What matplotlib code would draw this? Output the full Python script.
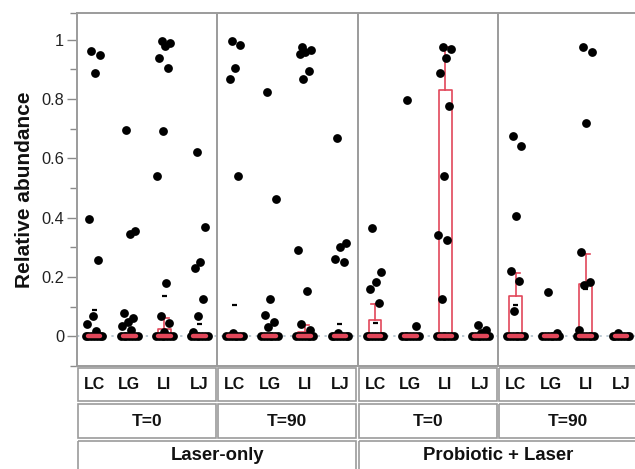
import numpy as np
import matplotlib
matplotlib.use("Agg")
import matplotlib.pyplot as plt
from matplotlib.patches import Rectangle
from matplotlib.ticker import FixedLocator

plt.rcParams['font.family'] = ['Liberation Sans', 'DejaVu Sans']

# ---------------- data ----------------
groups = ["LC", "LG", "LI", "LJ"]
times = ["T=0", "T=90", "T=0", "T=90"]
treatments = ["Laser-only", "Probiotic + Laser"]

# non-zero relative abundances per group (LC, LG, LI, LJ) for each panel
laser_t0 = [
    [0.963, 0.947, 0.887, 0.395, 0.257, 0.069, 0.041, 0.017],
    [0.696, 0.355, 0.344, 0.077, 0.062, 0.048, 0.035, 0.020],
    [0.997, 0.989, 0.980, 0.937, 0.904, 0.693, 0.542, 0.180, 0.068, 0.046, 0.015],
    [0.620, 0.369, 0.251, 0.229, 0.125, 0.069, 0.016],
]
laser_t90 = [
    [0.997, 0.981, 0.906, 0.868, 0.542, 0.010],
    [0.822, 0.463, 0.125, 0.071, 0.048, 0.031],
    [0.974, 0.966, 0.958, 0.951, 0.893, 0.868, 0.291, 0.152, 0.043, 0.020],
    [0.670, 0.313, 0.302, 0.262, 0.251, 0.012],
]
probiotic_t0 = [
    [0.364, 0.217, 0.184, 0.158, 0.114],
    [0.797, 0.035],
    [0.977, 0.968, 0.938, 0.889, 0.777, 0.542, 0.341, 0.324, 0.125],
    [0.037, 0.022, 0.012],
]
probiotic_t90 = [
    [0.676, 0.642, 0.405, 0.221, 0.187, 0.085],
    [0.150, 0.012],
    [0.977, 0.958, 0.718, 0.283, 0.184, 0.172, 0.020],
    [0.012],
]
zero_counts = [7] * 16

# box-plot statistics per group (panels in order, groups LC LG LI LJ)
box_q3 = [0, 0, 0.026, 0,   0, 0, 0.015, 0,   0.054, 0, 0.831, 0,   0.136, 0, 0.178, 0]
whisker_hi = [0, 0, 0.063, 0,   0, 0, 0.037, 0,   0.110, 0, 0.974, 0,   0.215, 0, 0.279, 0]
mean_marks = [0.088, np.nan, 0.135, 0.041,
              0.107, np.nan, np.nan, 0.043,
              0.046, np.nan, np.nan, np.nan,
              0.105, np.nan, 0.158, np.nan]

panels = [laser_t0, laser_t90, probiotic_t0, probiotic_t90]

# ---------------- figure ----------------
FW, FH = 635, 469
fig = plt.figure(figsize=(FW / 100, FH / 100), dpi=100)
left_px, right_px, top_px, bot_px = 76.5, 638.5, 13, 366
ax = fig.add_axes([left_px / FW, (FH - bot_px) / FH,
                   (right_px - left_px) / FW, (bot_px - top_px) / FH])

RED = "#e2475a"
GRAY = "#9b9b9b"
DOT = 40

ax.set_xlim(0, 4)
ax.set_ylim(-0.1, 1.09)
ax.axhline(0, color="#a9bcc8", ls=(0, (1.5, 3)), lw=1.1, zorder=1)
for p in (1, 2, 3):
    ax.axvline(p, color=GRAY, lw=1.4, zorder=1)

offs = np.array([0.125, 0.375, 0.625, 0.875])
stats = []
positions = []
for pi, panel in enumerate(panels):
    for gi, vals in enumerate(panel):
        idx = pi * 4 + gi
        xc = pi + offs[gi]
        positions.append(xc)
        # zero cluster
        nz = zero_counts[idx]
        zx = xc + np.linspace(-0.06, 0.06, nz)
        ax.scatter(zx, np.zeros(nz), s=DOT, color="black", lw=0, zorder=3)
        # non-zero points with deterministic jitter
        v = np.asarray(vals)
        k = np.arange(len(v))
        jit = ((k * 0.618034 + 0.3) % 1 - 0.5) * 0.1
        ax.scatter(xc + jit, v, s=DOT, color="black", lw=0, zorder=3)
        stats.append(dict(med=0.0, q1=0.0, q3=box_q3[idx], whislo=0.0,
                          whishi=whisker_hi[idx], fliers=[]))
        if not np.isnan(mean_marks[idx]):
            ax.plot([xc - 0.018, xc + 0.018], [mean_marks[idx]] * 2,
                    color="black", lw=1.6, zorder=4, solid_capstyle="butt")

ax.bxp(stats, positions=positions, widths=0.09, capwidths=0.06,
       showfliers=False, manage_ticks=False,
       boxprops=dict(color=RED, lw=1.2, zorder=2),
       whiskerprops=dict(color=RED, lw=1.2, zorder=2),
       capprops=dict(color=RED, lw=1.2, zorder=2),
       medianprops=dict(color=RED, lw=3.2, zorder=5, solid_capstyle="round"))

ax.set_xticks([])
ax.yaxis.set_major_locator(FixedLocator([0, 0.2, 0.4, 0.6, 0.8, 1.0]))
ax.yaxis.set_minor_locator(FixedLocator([-0.1, 0.1, 0.3, 0.5, 0.7, 0.9, 1.09]))
ax.set_yticklabels(["0", "0.2", "0.4", "0.6", "0.8", "1"])
ax.tick_params(axis="y", which="major", length=7, width=1, color="#8a8a8a",
               labelsize=11.8, labelcolor="#222222", pad=2)
ax.tick_params(axis="y", which="minor", length=5, width=1, color="#8a8a8a")
for side in ("left", "top", "bottom"):
    ax.spines[side].set_color(GRAY)
    ax.spines[side].set_linewidth(1.4)
ax.spines["right"].set_visible(False)
ax.set_ylabel("Relative abundance", fontsize=15, fontweight="bold",
              labelpad=5, color="#111111")

# ---------------- table below ----------------
axt = fig.add_axes([left_px / FW, 0, (right_px - left_px) / FW, (FH - bot_px) / FH])
axt.set_xlim(0, 4)
axt.set_ylim(FH - bot_px, 0)
axt.axis("off")
gx = 1.4 / 140.5
rows = [(0, 36), (36, 73), (73, 112)]
for pi in range(4):
    for (y0, y1) in rows[:2]:
        axt.add_patch(Rectangle((pi + gx, y0 + 1.5), 1 - 2 * gx, (y1 - y0) - 3,
                                fill=False, ec=GRAY, lw=1.2, clip_on=False))
    for gi, g in enumerate(groups):
        axt.text(pi + offs[gi], 18.5, g, ha="center", va="center",
                 fontsize=11.5, fontweight="bold", color="#111111")
    axt.text(pi + 0.5, 55, times[pi], ha="center", va="center",
             fontsize=12.5, fontweight="bold", color="#111111")
for ti in range(2):
    y0, y1 = rows[2]
    axt.add_patch(Rectangle((2 * ti + gx, y0 + 1.5), 2 - 2 * gx, (y1 - y0) - 3,
                            fill=False, ec=GRAY, lw=1.2, clip_on=False))
    axt.text(2 * ti + 1, 89, treatments[ti], ha="center", va="center",
             fontsize=13.3, fontweight="bold", color="#111111")

fig.savefig("out.png", dpi=100)
